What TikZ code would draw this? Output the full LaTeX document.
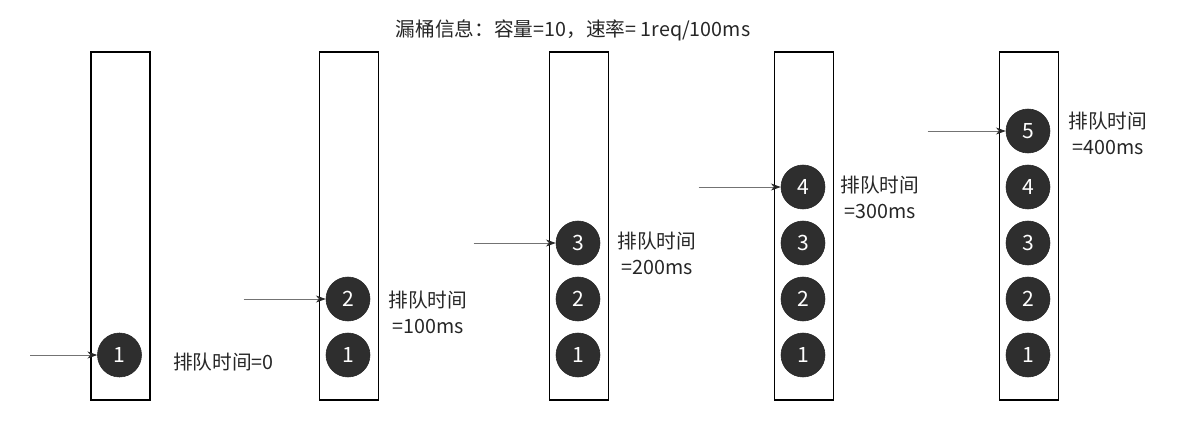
\documentclass[tikz,border=0pt]{standalone}
\usepackage{fontspec}
\setmainfont{Noto Sans CJK SC}
\usetikzlibrary{arrows.meta, calc, positioning}

\begin{document}
\begin{tikzpicture}[x=0.025cm, y=-0.025cm, >=Stealth]

% --- Styles ---
\tikzset{
    bucket/.style={draw=black, line width=0.9pt, minimum width=1.47cm, minimum height=8.7cm, inner sep=0pt},
    ball/.style={circle, fill=black!82, draw=black!85, minimum size=1.1cm, inner sep=0pt, text=white, font=\fontsize{15}{15}\selectfont},
    inArrow/.style={->, black!55, line width=0.6pt, >={Stealth[length=7pt, width=5pt, black!85]}},
    waitLabel/.style={align=center, font=\fontsize{14}{18.5}\selectfont, text=black!85, inner sep=0pt},
}

\useasboundingbox (0,0) rectangle (1192,424);

% --- Title ---
\node[font=\fontsize{14}{16}\selectfont, text=black!85] (title) at (573,30) {漏桶信息：容量=10，速率= 1req/100ms};

% --- Buckets, queued requests and incoming arrows ---
\foreach \i/\x/\len in {1/120.5/67, 2/349/82, 3/579/82, 4/804/82, 5/1029/78} {
    \node[bucket] (bucket-\i) at (\x,226) {};
    \foreach \k in {1,...,\i}
        \node[ball] (ball-\i-\k) at (\x-1, 411-56*\k) {\k};
    \coordinate (src-\i) at ($(ball-\i-\i.west)+(-\len,0)$);
    \draw[inArrow] (src-\i) -- (ball-\i-\i);
}

% --- Waiting times ---
\node[waitLabel, anchor=west] (wait-1) at ($(ball-1-1.east)+(31,7)$) {排队时间=0};
\node[waitLabel, anchor=west] (wait-2) at ($(ball-2-2.east)+(18,13)$) {排队时间\\=100ms};
\node[waitLabel, anchor=west] (wait-3) at ($(ball-3-3.east)+(17,10)$) {排队时间\\=200ms};
\node[waitLabel, anchor=west] (wait-4) at ($(ball-4-4.east)+(15,10)$) {排队时间\\=300ms};
\node[waitLabel, anchor=west] (wait-5) at ($(ball-5-5.east)+(18,2)$) {排队时间\\=400ms};

\end{tikzpicture}
\end{document}
